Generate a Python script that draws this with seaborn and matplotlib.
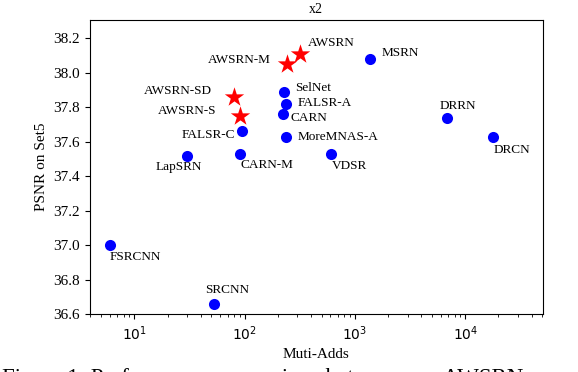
import matplotlib
matplotlib.use("Agg")
import matplotlib.pyplot as plt
import seaborn as sns
import pandas as pd

# ---- data ----
other_names = ["FSRCNN", "SRCNN", "LapSRN", "FALSR-C", "CARN-M", "SelNet", "FALSR-A",
               "CARN", "MoreMNAS-A", "VDSR", "MSRN", "DRRN", "DRCN"]
other_adds = [6.0, 52.7, 29.9, 93.7, 91.2, 225.7, 234.7, 222.8, 238.6, 612.6, 1365.4, 6796.9, 17974.3]
other_psnr = [37.00, 36.66, 37.52, 37.66, 37.53, 37.89, 37.82, 37.76, 37.63, 37.53, 38.08, 37.74, 37.63]

aws_names = ["AWSRN-SD", "AWSRN-S", "AWSRN-M", "AWSRN"]
aws_adds = [79.6, 91.2, 244.1, 320.5]
aws_psnr = [37.86, 37.75, 38.05, 38.11]

title = "x2"
xlabel = "Muti-Adds"
ylabel = "PSNR on Set5"
yticks = [36.6, 36.8, 37.0, 37.2, 37.4, 37.6, 37.8, 38.0, 38.2]
caption = "Figure 1: Performance comparison between our AWSRN"

# label placement (offset pixels, alignment)
label_pos = {
    "FSRCNN": (0, -11.6, "left"),
    "SRCNN": (-8.6, 14.3, "left"),
    "LapSRN": (-7.7, -11, "center"),
    "FALSR-C": (-6.4, -3.3, "right"),
    "CARN-M": (0, -11, "left"),
    "SelNet": (11.4, 4, "left"),
    "FALSR-A": (11.7, 1, "left"),
    "CARN": (7.7, -4, "left"),
    "MoreMNAS-A": (11.7, 0, "left"),
    "VDSR": (0, -12, "left"),
    "MSRN": (11.7, 5.6, "left"),
    "DRRN": (-6.7, 11.7, "left"),
    "DRCN": (0, -13, "left"),
    "AWSRN-SD": (-22, 5.7, "right"),
    "AWSRN-S": (-23.4, 4.7, "right"),
    "AWSRN-M": (-16.7, 4, "right"),
    "AWSRN": (7.4, 10.6, "left"),
}

plt.rcParams["font.family"] = ["Liberation Serif", "DejaVu Sans"]
plt.rcParams["mathtext.fontset"] = "dejavusans"

df_o = pd.DataFrame({"name": other_names, "adds": other_adds, "psnr": other_psnr})
df_a = pd.DataFrame({"name": aws_names, "adds": aws_adds, "psnr": aws_psnr})

fig = plt.figure(figsize=(5.78, 3.72), dpi=100)
ax = fig.add_axes([90 / 578, (372 - 314.3) / 372, (542.7 - 90) / 578, (314.3 - 20) / 372])

sns.scatterplot(data=df_o, x="adds", y="psnr", color="#0000ff", marker="o", s=64,
                linewidth=0, ax=ax, zorder=3)
sns.scatterplot(data=df_a, x="adds", y="psnr", color="#ff0000", marker="*", s=215,
                linewidth=0, ax=ax, zorder=3)

ax.set_xscale("log")
ax.set_xlim(3.96, 50400)
ax.set_ylim(36.6, 38.306)
ax.set_yticks(yticks)
ax.set_yticklabels([f"{v:.1f}" for v in yticks])
ax.tick_params(axis="y", labelsize=11)
ax.tick_params(axis="x", labelsize=10, labelfontfamily="DejaVu Sans")

for df in (df_o, df_a):
    for n, xv, yv in zip(df["name"], df["adds"], df["psnr"]):
        dx, dy, ha = label_pos[n]
        ax.annotate(n, (xv, yv), xytext=(dx, dy), textcoords="offset pixels",
                    ha=ha, va="center", fontsize=9.5)

ax.set_title(title, fontsize=10, pad=5)
ax.set_xlabel(xlabel, fontsize=11, labelpad=4)
ax.set_ylabel(ylabel, fontsize=11)

fig.text(2 / 578, -12 / 372, caption, fontsize=16.5, va="baseline", ha="left")

fig.savefig("out.png", dpi=100)
